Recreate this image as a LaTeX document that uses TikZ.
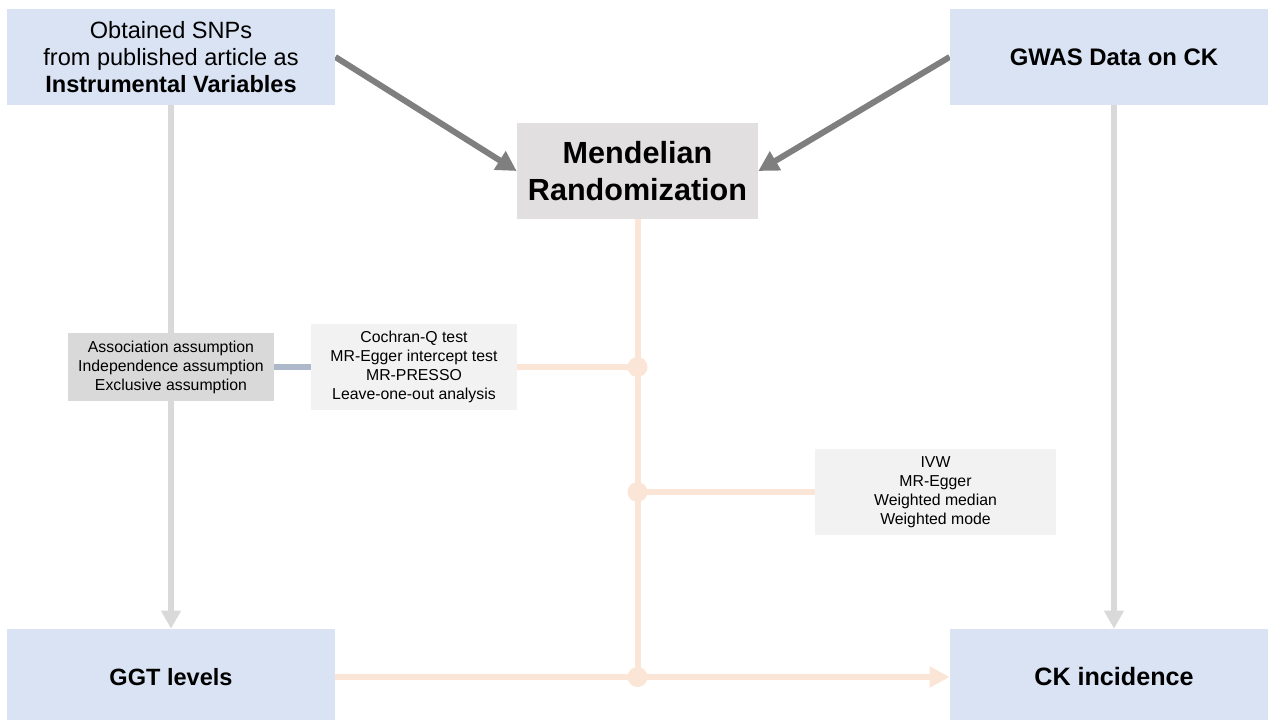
\documentclass[tikz,border=0pt]{standalone}
\usepackage{fontspec}
\setmainfont{Liberation Sans}
\usetikzlibrary{arrows.meta,backgrounds}

\definecolor{boxblue}{HTML}{DAE3F3}
\definecolor{mrgray}{HTML}{E1DFDF}
\definecolor{asmgray}{HTML}{D9D9D9}
\definecolor{testgray}{HTML}{F2F2F2}
\definecolor{peach}{HTML}{FBE5D6}
\definecolor{lightline}{HTML}{D9D9D9}
\definecolor{darkline}{HTML}{7F7F7F}
\definecolor{slate}{HTML}{ADB9CA}

\begin{document}
\begin{tikzpicture}[
    databox/.style={fill=boxblue, minimum width=6.56cm, minimum height=1.92cm,
        inner sep=0pt, align=center, font=\fontsize{13.4}{15.6}\selectfont},
    mrbox/.style={fill=mrgray, minimum width=4.82cm, minimum height=1.92cm,
        inner sep=0pt, align=center, font=\fontsize{17.4}{21.5}\selectfont\bfseries},
    smallbox/.style={minimum width=4.12cm, inner sep=0pt, align=center,
        font=\fontsize{9}{10.8}\selectfont},
    wide/.style={line width=0.12cm},
    grayarrow/.style={wide, lightline, -{Triangle[width=0.38cm,length=0.36cm]}},
    darkarrow/.style={wide, darkline, -{Triangle[width=0.42cm,length=0.4cm]}},
    peachline/.style={wide, peach},
]

    \useasboundingbox (0,0) rectangle (25.36,-14.4);

    % data sources and outcomes
    \node[databox] (snp) at (3.42,-1.14) {Obtained SNPs\\from published article as\\\textbf{Instrumental Variables}};
    \node[databox, font=\fontsize{13.6}{15.6}\selectfont\bfseries] (gwas) at (22.28,-1.14) {GWAS Data on CK};
    \node[databox, font=\fontsize{13.4}{15.6}\selectfont\bfseries] (ggt) at (3.42,-13.54) {GGT levels};
    \node[databox, font=\fontsize{14.3}{16}\selectfont\bfseries] (ck) at (22.28,-13.54) {CK incidence};

    \node[mrbox] (mr) at (12.75,-3.42) {Mendelian\\Randomization};

    % assumptions and tests
    \node[smallbox, fill=asmgray, minimum height=1.36cm] (asm) at (3.42,-7.34)
        {Association assumption\\Independence assumption\\Exclusive assumption};
    \node[smallbox, fill=testgray, minimum height=1.72cm] (test) at (8.28,-7.34)
        {Cochran-Q test\\MR-Egger intercept test\\MR-PRESSO\\Leave-one-out analysis};
    \node[smallbox, fill=testgray, minimum width=4.82cm, minimum height=1.72cm] (ivw) at (18.71,-9.84)
        {IVW\\MR-Egger\\Weighted median\\Weighted mode};

    \coordinate (j1) at (mr.south |- test.east);
    \coordinate (j2) at (mr.south |- ivw.west);
    \coordinate (j3) at (mr.south |- ggt.east);

    \begin{scope}[on background layer]
        % vertical links
        \draw[grayarrow] (snp.south) -- (ggt.north);
        \draw[grayarrow] (gwas.south) -- (ck.north);

        % inputs of MR
        \draw[darkarrow] (snp.east) -- (mr.west);
        \draw[darkarrow] (gwas.west) -- (mr.east);

        % MR trunk
        \draw[peachline] (mr.south) -- (j3);
        \draw[peachline] (test.east) -- (j1);
        \draw[peachline] (j2) -- (ivw.west);
        \draw[peachline, -{Triangle[width=0.4cm,length=0.4cm]}] (ggt.east) -- (ck.west);
        \foreach \j in {j1,j2,j3}
            \fill[peach] (\j) circle (0.2cm);

        \draw[wide, slate] (asm.east) -- (test.west);
    \end{scope}

\end{tikzpicture}
\end{document}
